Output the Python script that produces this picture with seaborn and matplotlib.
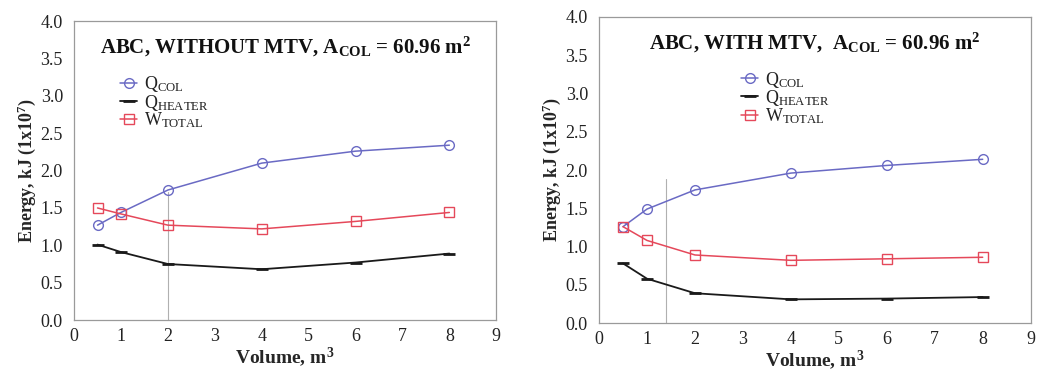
import numpy as np
import pandas as pd
import matplotlib
matplotlib.use("Agg")
import matplotlib.pyplot as plt
import seaborn as sns

# ---- data ----
volume = [0.5, 1, 2, 4, 6, 8]
without_qcol = [1.27, 1.44, 1.74, 2.10, 2.26, 2.34]
without_qheater = [1.01, 0.91, 0.75, 0.68, 0.77, 0.89]
without_wtotal = [1.50, 1.42, 1.27, 1.22, 1.32, 1.44]
with_qcol = [1.26, 1.49, 1.74, 1.96, 2.06, 2.14]
with_qheater = [0.78, 0.58, 0.39, 0.31, 0.32, 0.34]
with_wtotal = [1.26, 1.08, 0.89, 0.82, 0.84, 0.86]
x_ticks = [0, 1, 2, 3, 4, 5, 6, 7, 8, 9]
y_ticks = [0.0, 0.5, 1.0, 1.5, 2.0, 2.5, 3.0, 3.5, 4.0]
titles = [r"ABC, WITHOUT MTV, A$_{\mathbf{COL}}$ = 60.96 m$^{\mathbf{2}}$",
          r"ABC, WITH MTV,  A$_{\mathbf{COL}}$ = 60.96 m$^{\mathbf{2}}$"]
series_labels = [r"Q$_{\mathrm{COL}}$", r"Q$_{\mathrm{HEATER}}$", r"W$_{\mathrm{TOTAL}}$"]

sns.set_style("white")
plt.rcParams['font.family'] = ['Liberation Serif', 'DejaVu Serif']
plt.rcParams['mathtext.fontset'] = 'custom'
plt.rcParams['mathtext.rm'] = 'Liberation Serif'
plt.rcParams['mathtext.it'] = 'Liberation Serif:italic'
plt.rcParams['mathtext.bf'] = 'Liberation Serif:bold'

fig = plt.figure(figsize=(10.4, 3.77), dpi=100)
ax1 = fig.add_axes([0.0712, 0.151, 0.406, 0.793])
ax2 = fig.add_axes([0.576, 0.143, 0.415, 0.812])

BLUE = "#6a6ac4"
RED = "#e5485a"
BLACK = "#1a1a1a"

panels = [
    (ax1, without_qcol, without_qheater, without_wtotal, titles[0], (0.11, 0.822), 2.0, 0.43),
    (ax2, with_qcol, with_qheater, with_wtotal, titles[1], (0.33, 0.828), 1.4, 0.47),
]

for ax, qcol, qheat, wtot, title, legpos, vx, vtop in panels:
    ax.axvline(vx, ymin=0, ymax=vtop, color="#b0b0b0", lw=0.8, zorder=0)
    sns.lineplot(x=volume, y=qcol, ax=ax, color=BLUE, lw=1.1, marker="o", ms=7,
                 mfc="none", mec=BLUE, mew=1.0, label=series_labels[0])
    sns.lineplot(x=volume, y=qheat, ax=ax, color=BLACK, lw=1.3, marker="_", ms=8,
                 mec=BLACK, mew=2.0, label=series_labels[1])
    sns.lineplot(x=volume, y=wtot, ax=ax, color=RED, lw=1.1, marker="s", ms=7,
                 mfc="none", mec=RED, mew=1.0, label=series_labels[2])
    ax.set_xlim(0, 9)
    ax.set_ylim(0, 4)
    ax.set_xticks(x_ticks)
    ax.set_yticks(y_ticks)
    ax.set_yticklabels([f"{v:.1f}" for v in y_ticks])
    ax.tick_params(axis="both", labelsize=13, colors="#222222", direction="in",
                   length=3, width=0.6, color="#999999", pad=6)
    ax.tick_params(axis="y", length=0, pad=8)
    for s in ax.spines.values():
        s.set_color("#9a9a9a")
        s.set_linewidth(0.9)
    ax.set_xlabel(r"Volume, m$^{\mathbf{3}}$", fontsize=14, fontweight="bold", labelpad=0)
    ax.set_ylabel(r"Energy, kJ (1x10$^{\mathbf{7}}$)", fontsize=13, fontweight="bold", labelpad=2)
    ax.text(0.5, 0.915, title, transform=ax.transAxes, ha="center", va="center",
            fontsize=15, fontweight="bold", color="#111111")
    leg = ax.legend(loc="upper left", bbox_to_anchor=legpos, frameon=False,
                    fontsize=13, handlelength=0.9, handletextpad=0.4,
                    labelspacing=-0.1, borderaxespad=0, borderpad=0)
    for t in leg.get_texts():
        t.set_color("#222222")

fig.savefig("out.png", dpi=100)
